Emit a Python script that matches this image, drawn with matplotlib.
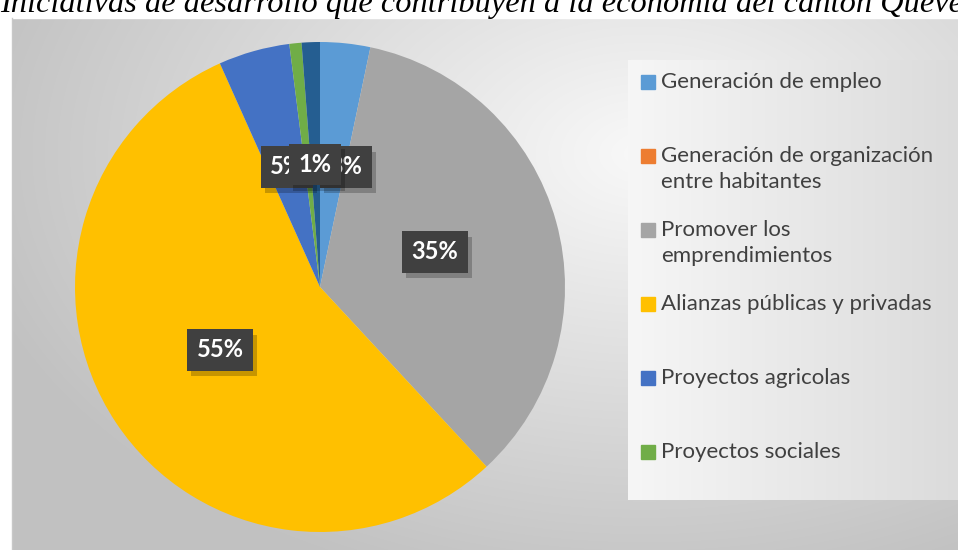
import matplotlib
matplotlib.use("Agg")
import matplotlib.pyplot as plt
import numpy as np
from matplotlib.patches import Rectangle

categorias = ["Generación de empleo", "Generación de organización\nentre habitantes",
              "Promover los\nemprendimientos", "Alianzas públicas y privadas",
              "Proyectos agricolas", "Proyectos sociales", "Otros"]
porcentajes = [3.3, 0.0, 34.8, 55.2, 4.7, 0.8, 1.2]
etiquetas = ["3%", "0%", "35%", "55%", "5%", "1%", "1%"]
colores = ["#5B9BD5", "#ED7D31", "#A5A5A5", "#FFC000", "#4472C4", "#70AD47", "#255E91"]
titulo = "Iniciativas de desarrollo que contribuyen a la economía del cantón Quevedo"

W, H = 958, 550
fig = plt.figure(figsize=(W / 100, H / 100), dpi=100)
fig.patch.set_facecolor("white")

# fondo con degradado radial
bg = fig.add_axes([0, 0, 1, 1])
bg.set_xlim(0, W); bg.set_ylim(H, 0); bg.axis("off")
yy, xx = np.mgrid[0:H, 0:W]
d = np.sqrt(((xx - 640) / 650.0) ** 2 + ((yy - 140) / 430.0) ** 2)
val = np.clip(0.975 - 0.2 * d, 0.76, 1)
img = np.dstack([val, val, val])
bg.imshow(img, extent=(12, W, H, 18), aspect="auto", zorder=0)
bg.add_patch(Rectangle((0, 0), W, 18, color="white", zorder=1))
bg.plot([12, 12], [18, H], color="#c8c8c8", lw=1, zorder=2)

# panel de leyenda
gx = np.linspace(0.965, 0.86, 200)
panel = np.tile(gx, (60, 1))
bg.imshow(np.dstack([panel, panel, panel]), extent=(628, W, 500, 60), aspect="auto", zorder=2)

bg.text(0, 12, titulo, family="Liberation Serif", style="italic", fontsize=23.3,
        va="baseline", ha="left", color="black", zorder=3)

# leyenda manual (6 entradas visibles)
y0, paso = 82, 74
for i in range(6):
    y = y0 + i * paso
    bg.add_patch(Rectangle((641, y - 7), 14, 14, color=colores[i], zorder=3))
    bg.text(661, y - 10, categorias[i], family="Lato", fontsize=16, color="#404040",
            va="top", ha="left", linespacing=1.35, zorder=3)

# pastel
ax = fig.add_axes([75 / W, (H - 287 - 245) / H, 490 / W, 490 / H])
ax.pie(porcentajes, colors=colores, startangle=90, counterclock=False,
       wedgeprops=dict(linewidth=0), radius=1)
ax.set_xlim(-1, 1); ax.set_ylim(-1, 1); ax.set_aspect("equal")

pos = {3: (-0.408, -0.257), 2: (0.469, 0.143), 4: (-0.135, 0.49), 0: (0.105, 0.49), 6: (-0.02, 0.50)}
for i in [3, 2, 4, 0, 6]:
    x, y = pos[i]
    ax.annotate(etiquetas[i], (x, y), xytext=(3, -4), textcoords="offset points",
                ha="center", va="center", fontsize=17, fontweight="bold", family="Lato",
                color=(0, 0, 0, 0),
                bbox=dict(boxstyle="square,pad=0.4", fc=(0, 0, 0, 0.22), ec="none"))
    ax.text(x, y, etiquetas[i], ha="center", va="center", fontsize=17, fontweight="bold",
            family="Lato", color="white",
            bbox=dict(boxstyle="square,pad=0.4", fc="#404040", ec="none"))

fig.savefig("out.png", dpi=100)
